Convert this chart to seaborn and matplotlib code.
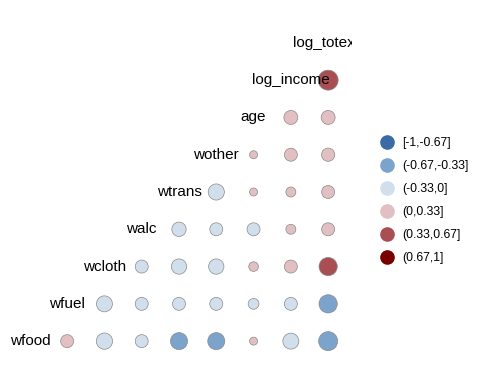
import numpy as np
import pandas as pd
import matplotlib
matplotlib.use('Agg')
import matplotlib.pyplot as plt
import seaborn as sns
from matplotlib.lines import Line2D

variables = ['wfood', 'wfuel', 'wcloth', 'walc', 'wtrans', 'wother',
             'age', 'log_income', 'log_totexp']

# correlation of each variable with every variable listed after it
wfood_corr = [0.14, -0.31, -0.14, -0.36, -0.36, 0.045, -0.29, -0.51]
wfuel_corr = [-0.29, -0.14, -0.14, -0.14, -0.075, -0.14, -0.45]
wcloth_corr = [-0.14, -0.25, -0.25, 0.055, 0.14, 0.45]
walc_corr = [-0.2, -0.14, -0.14, 0.06, 0.14]
wtrans_corr = [-0.3, 0.045, 0.06, 0.14]
wother_corr = [0.045, 0.14, 0.15]
age_corr = [0.18, 0.18]
log_income_corr = [0.6]

corr_rows = [wfood_corr, wfuel_corr, wcloth_corr, walc_corr, wtrans_corr,
             wother_corr, age_corr, log_income_corr]

bin_edges = [-1, -0.67, -0.33, 0, 0.33, 0.67, 1]
bin_labels = ['[-1,-0.67]', '(-0.67,-0.33]', '(-0.33,0]', '(0,0.33]',
              '(0.33,0.67]', '(0.67,1]']
bin_colors = ['#3A6BA5', '#7BA3CB', '#D0DFEB', '#E2BFC2', '#A94F53', '#7A0000']

records = []
for i, row in enumerate(corr_rows):
    for k, r in enumerate(row, start=i + 1):
        records.append({'x': k, 'y': i, 'r': r})
df = pd.DataFrame(records)
df['bin'] = pd.cut(df['r'], bins=bin_edges, labels=bin_labels, include_lowest=True)

# ggplot-like size scale: diameter grows with sqrt of rescaled |r|
abs_r = df['r'].abs()
scaled = (abs_r - abs_r.min()) / (abs_r.max() - abs_r.min())
diam_pt = (8 + 12 * np.sqrt(scaled)) * 0.72
df['area'] = diam_pt ** 2
amin, amax = df['area'].min(), df['area'].max()

fig = plt.figure(figsize=(4.8, 3.84), dpi=100)
ax = fig.add_axes([6 / 480, 1 - 365 / 384, 346 / 480, 346 / 384])

sns.scatterplot(data=df, x='x', y='y', hue='bin', hue_order=bin_labels,
                palette=dict(zip(bin_labels, bin_colors)),
                size='area', sizes=(amin, amax), size_norm=(amin, amax),
                edgecolor='#8a8a8a', linewidth=0.5, legend=False, ax=ax, zorder=3)

for i, name in enumerate(variables):
    ax.text(i, i, name, ha='center', va='center', fontsize=11,
            family='Liberation Sans', clip_on=True, zorder=5)

ax.set_xlim(-0.64, 8.64)
ax.set_ylim(-0.64, 8.64)
ax.axis('off')

handles = [Line2D([], [], marker='o', ls='', markersize=9.5,
                  markerfacecolor=c, markeredgecolor=c) for c in bin_colors]
fig.legend(handles, bin_labels, loc='upper left',
           bbox_to_anchor=(375 / 480, 1 - 131 / 384), frameon=False,
           prop={'family': 'Liberation Sans', 'size': 8.8},
           labelspacing=0.9, handletextpad=0.7, borderpad=0, handlelength=1)

fig.savefig('out.png', dpi=100)
